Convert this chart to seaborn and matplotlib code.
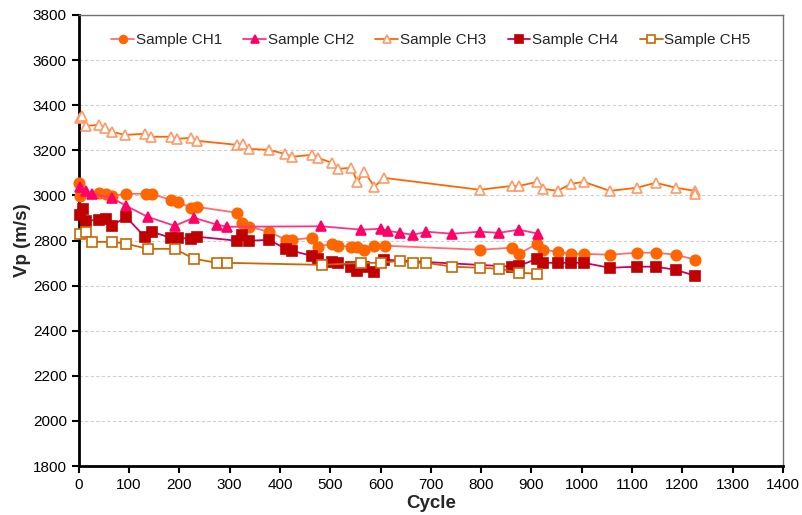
import numpy as np
import pandas as pd
import seaborn as sns
import matplotlib.pyplot as plt

# Values
ch1_cycle = [0, 2, 40, 54, 66, 94, 133, 145, 183, 197, 223, 235, 315, 325, 339, 378, 412, 424,
             464, 476, 504, 516, 542, 554, 568, 588, 608, 797, 861, 875, 912, 924, 952,
             978, 1004, 1056, 1110, 1147, 1187, 1225]
ch1_vp = [3056, 2996, 3011, 3007, 2998, 3007, 3007, 3007, 2980, 2972, 2945, 2949, 2923, 2879, 2861,
          2839, 2803, 2803, 2812, 2772, 2786, 2777, 2772, 2772, 2759, 2777, 2777, 2759, 2768,
          2741, 2786, 2759, 2750, 2741, 2741, 2737, 2746, 2746, 2737, 2715]

ch2_cycle = [2, 14, 26, 66, 94, 137, 191, 229, 275, 295, 482, 562, 600, 614, 639, 665, 691,
             743, 797, 835, 875, 914]
ch2_vp = [3038, 3020, 3007, 2989, 2954, 2905, 2865, 2901, 2870, 2861, 2863, 2848, 2852, 2843,
          2834, 2825, 2839, 2830, 2839, 2834, 2848, 2830]

ch3_cycle = [2, 6, 14, 40, 52, 66, 92, 131, 143, 183, 195, 223, 235, 315, 327, 339, 378, 410,
             424, 464, 476, 504, 516, 542, 554, 568, 588, 606, 797, 861, 875, 912, 924, 952,
             978, 1004, 1056, 1110, 1147, 1187, 1225, 1225]
ch3_vp = [3344, 3353, 3308, 3313, 3299, 3282, 3268, 3273, 3260, 3260, 3251, 3255, 3242, 3224,
          3229, 3206, 3202, 3184, 3171, 3180, 3166, 3144, 3118, 3122, 3060, 3104, 3038, 3078,
          3025, 3042, 3042, 3060, 3029, 3020, 3051, 3060, 3020, 3034, 3056, 3034, 3020, 3004]

ch4_cycle = [2, 8, 14, 40, 54, 66, 94, 131, 145, 183, 197, 223, 235, 315, 325, 339, 378, 412,
             424, 464, 476, 504, 516, 542, 554, 568, 588, 606, 861, 875, 912, 924, 952,
             978, 1004, 1056, 1110, 1147, 1187, 1225]
ch4_vp = [2914, 2941, 2887, 2892, 2896, 2865, 2905, 2817, 2839, 2812, 2812, 2808, 2817, 2799,
          2825, 2799, 2803, 2763, 2754, 2732, 2719, 2706, 2701, 2684, 2666, 2684, 2662, 2715,
          2684, 2688, 2719, 2701, 2701, 2701, 2701, 2679, 2684, 2684, 2670, 2644]

ch5_cycle = [2, 14, 26, 66, 94, 137, 191, 229, 275, 295, 484, 562, 600, 639, 665, 691, 743,
             797, 835, 875, 912]
ch5_vp = [2830, 2839, 2794, 2794, 2786, 2763, 2763, 2719, 2701, 2701, 2692, 2701, 2701, 2710,
          2701, 2701, 2684, 2679, 2675, 2657, 2653]

series = [
    # label, x, y, marker, marker face, marker edge, line colour
    ('Sample CH1', ch1_cycle, ch1_vp, 'o', '#FF6600', '#FF6600', '#FF6F6F'),
    ('Sample CH2', ch2_cycle, ch2_vp, '^', '#FF0066', '#FF0066', '#FF3380'),
    ('Sample CH3', ch3_cycle, ch3_vp, '^', 'white', '#FF9966', '#FF6600'),
    ('Sample CH4', ch4_cycle, ch4_vp, 's', '#C00000', '#C00000', '#CC0066'),
    ('Sample CH5', ch5_cycle, ch5_vp, 's', 'white', '#CC6600', '#CC6600'),
]

sns.set_style('white')
plt.rcParams['font.family'] = ['Liberation Sans', 'DejaVu Sans']

fig, ax = plt.subplots(figsize=(8.03, 5.15), dpi=100)
fig.subplots_adjust(left=0.098, right=0.975, bottom=0.095, top=0.971)

for label, xs, ys, mk, face, edge, lc in series:
    df = pd.DataFrame({'Cycle': xs, 'Vp': ys})
    sns.lineplot(data=df, x='Cycle', y='Vp', sort=False, estimator=None, ax=ax,
                 color=lc, linewidth=1.3, marker=mk, markersize=7.5,
                 markerfacecolor=face, markeredgecolor=edge, markeredgewidth=1.2,
                 label=label, clip_on=False, zorder=3)

ax.set_xlim(0, 1400)
ax.set_ylim(1800, 3800)
ax.set_xticks(np.arange(0, 1401, 100))
ax.set_yticks(np.arange(1800, 3801, 200))
ax.yaxis.grid(True, color='#D0D0D0', linestyle=(0, (3, 2)), linewidth=0.8)
ax.xaxis.grid(False)
ax.set_axisbelow(True)

ax.spines['left'].set_color('black')
ax.spines['left'].set_linewidth(2)
ax.spines['bottom'].set_color('black')
ax.spines['bottom'].set_linewidth(2)
ax.spines['top'].set_color('#707070')
ax.spines['top'].set_linewidth(1)
ax.spines['right'].set_color('#707070')
ax.spines['right'].set_linewidth(1)

ax.tick_params(axis='both', which='major', direction='out', length=5, width=1.5,
               labelsize=11, colors='black', left=True, bottom=True)

ax.set_xlabel('Cycle', fontsize=13.5, fontweight='bold', labelpad=2)
ax.set_ylabel('Vp (m/s)', fontsize=13.5, fontweight='bold', labelpad=1)

ax.legend(loc='upper center', bbox_to_anchor=(0.5, 0.99), ncol=5, frameon=False,
          fontsize=11, handlelength=1.5, handletextpad=0.1, columnspacing=1.4,
          markerscale=0.75)

plt.savefig('out.png', dpi=100)
